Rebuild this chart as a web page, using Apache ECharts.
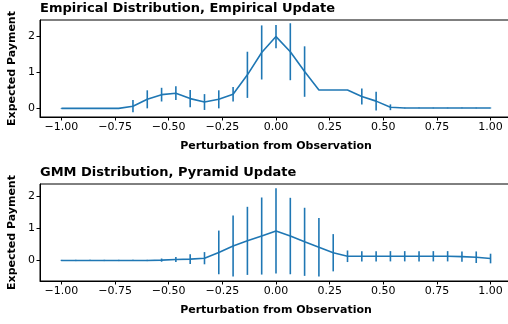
<!DOCTYPE html>
<html>
<head>
<meta charset="utf-8">
<script src="https://cdn.jsdelivr.net/npm/echarts@6/dist/echarts.min.js"></script>
<style>
  html, body { margin: 0; padding: 0; background: #fff; }
  #chart { width: 508px; height: 324px; }
</style>
</head>
<body>
<div id="chart"></div>
<script>
// perturbation values (31 points, step 1/15)
const perturbation = [
  -1.0000, -0.9333, -0.8667, -0.8000, -0.7333, -0.6667, -0.6000, -0.5333,
  -0.4667, -0.4000, -0.3333, -0.2667, -0.2000, -0.1333, -0.0667, 0.0000,
  0.0667, 0.1333, 0.2000, 0.2667, 0.3333, 0.4000, 0.4667, 0.5333,
  0.6000, 0.6667, 0.7333, 0.8000, 0.8667, 0.9333, 1.0000
];

// top: empirical distribution, empirical update
const empMean = [
  0, 0, 0, 0, 0, 0.06, 0.25, 0.38,
  0.42, 0.27, 0.175, 0.25, 0.39, 0.93, 1.55, 1.99,
  1.57, 1.02, 0.51, 0.51, 0.51, 0.33, 0.20, 0.03,
  0.01, 0.01, 0.01, 0.01, 0.01, 0.01, 0.01
];
const empErr = [
  0.01, 0.01, 0.01, 0.01, 0.01, 0.17, 0.25, 0.19,
  0.19, 0.24, 0.22, 0.25, 0.20, 0.64, 0.75, 0.32,
  0.79, 0.70, 0, 0, 0, 0.22, 0.26, 0.08,
  0.01, 0.01, 0.01, 0.01, 0.01, 0.01, 0.01
];

// bottom: GMM distribution, pyramid update
const gmmMean = [
  0, 0, 0, 0, 0, 0, 0, 0.01,
  0.03, 0.04, 0.07, 0.25, 0.45, 0.61, 0.76, 0.92,
  0.76, 0.58, 0.41, 0.24, 0.13, 0.13, 0.13, 0.13,
  0.13, 0.13, 0.13, 0.13, 0.12, 0.10, 0.06
];
const gmmErr = [
  0.02, 0.02, 0.02, 0.02, 0.02, 0.02, 0.02, 0.05,
  0.08, 0.15, 0.19, 0.68, 0.95, 1.06, 1.20, 1.33,
  1.19, 1.06, 0.91, 0.58, 0.18, 0.16, 0.16, 0.16,
  0.16, 0.16, 0.16, 0.16, 0.16, 0.18, 0.15
];

const xTicks = [-1, -0.75, -0.5, -0.25, 0, 0.25, 0.5, 0.75, 1];
const yTicks = [0, 1, 2];
const titles = ['Empirical Distribution, Empirical Update', 'GMM Distribution, Pyramid Update'];

const blue = '#1f77b4';
const font = 'DejaVu Sans';
const fmt = (v) => v.toFixed(2).replace('-', '\u2212');

const chart = echarts.init(document.getElementById('chart'));

const makeX = (idx) => ({
  type: 'value', gridIndex: idx, min: -1.1, max: 1.1,
  name: 'Perturbation from Observation', nameLocation: 'middle', nameGap: 24,
  nameTextStyle: { fontFamily: font, fontWeight: 'bold', fontSize: 11, color: '#000' },
  axisLine: { onZero: false, lineStyle: { color: '#000', width: 1 } },
  axisTick: { show: true, length: 3.5, lineStyle: { color: '#000' }, customValues: xTicks },
  axisLabel: { fontFamily: font, fontSize: 11, color: '#000', margin: 5, customValues: xTicks, formatter: fmt },
  splitLine: { show: false }
});

const makeY = (idx, min, max) => ({
  type: 'value', gridIndex: idx, min: min, max: max,
  name: 'Expected Payment', nameLocation: 'middle', nameGap: 22, nameRotate: 90,
  nameMoveOverlap: false,
  nameTextStyle: { fontFamily: font, fontWeight: 'bold', fontSize: 11, color: '#000' },
  axisLine: { show: true, onZero: false, lineStyle: { color: '#000', width: 1 } },
  axisTick: { show: true, length: 3.5, lineStyle: { color: '#000' }, customValues: yTicks },
  axisLabel: { fontFamily: font, fontSize: 11, color: '#000', margin: 5, customValues: yTicks },
  splitLine: { show: false }
});

const errRender = (params, api) => {
  const x = api.value(0), y = api.value(1), e = api.value(2);
  const p1 = api.coord([x, y - e]);
  const p2 = api.coord([x, y + e]);
  return {
    type: 'line',
    shape: { x1: p1[0], y1: p1[1], x2: p2[0], y2: p2[1] },
    style: { stroke: blue, lineWidth: 1.6 }
  };
};

const lineSeries = (idx, mean) => ({
  type: 'line', xAxisIndex: idx, yAxisIndex: idx,
  data: perturbation.map((x, i) => [x, mean[i]]),
  showSymbol: false, lineStyle: { color: blue, width: 1.6 }, z: 3
});

const errSeries = (idx, mean, err) => ({
  type: 'custom', xAxisIndex: idx, yAxisIndex: idx,
  data: perturbation.map((x, i) => [x, mean[i], err[i]]),
  renderItem: errRender, z: 2
});

chart.setOption({
  animation: false,
  backgroundColor: '#fff',
  title: [
    { text: titles[0], left: 40, top: 2, padding: 0, textStyle: { fontFamily: font, fontWeight: 'bold', fontSize: 13, color: '#000' } },
    { text: titles[1], left: 40, top: 166, padding: 0, textStyle: { fontFamily: font, fontWeight: 'bold', fontSize: 13, color: '#000' } }
  ],
  grid: [
    { left: 40, top: 20, width: 472, height: 97, show: true, borderColor: '#000', borderWidth: 1, outerBoundsMode: 'none' },
    { left: 40, top: 184, width: 472, height: 97, show: true, borderColor: '#000', borderWidth: 1, outerBoundsMode: 'none' }
  ],
  xAxis: [makeX(0), makeX(1)],
  yAxis: [makeY(0, -0.24, 2.45), makeY(1, -0.64, 2.38)],
  series: [
    lineSeries(0, empMean), errSeries(0, empMean, empErr),
    lineSeries(1, gmmMean), errSeries(1, gmmMean, gmmErr)
  ]
});
</script>
</body>
</html>
